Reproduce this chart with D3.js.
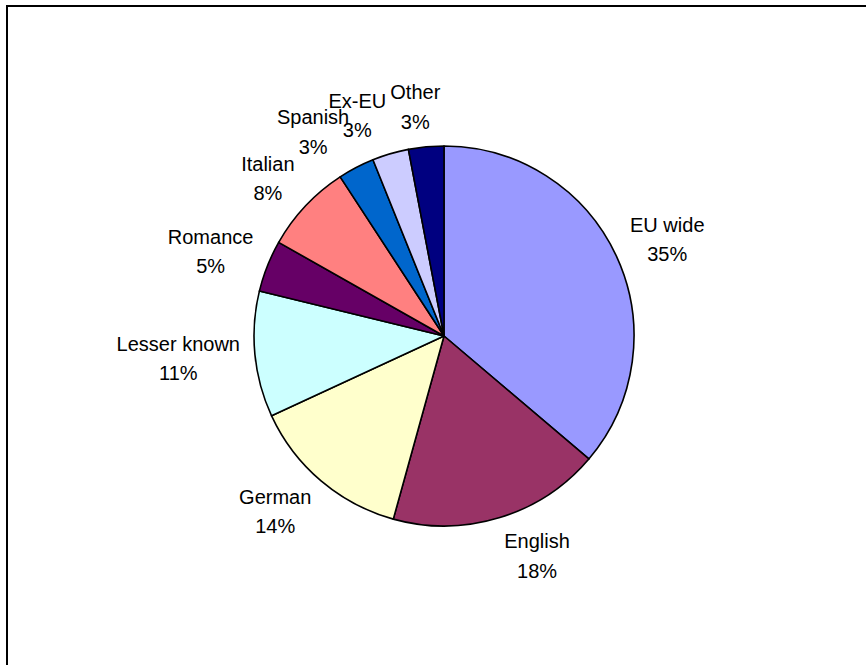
<!DOCTYPE html>
<html>
<head>
<meta charset="utf-8">
<script src="https://cdn.jsdelivr.net/npm/d3@7"></script>
<style>
  html, body { margin: 0; padding: 0; background: #fff; }
  svg { display: block; }
  text { font-family: "Liberation Sans", Arial, sans-serif; font-size: 20px; fill: #000; }
</style>
</head>
<body>
<svg id="chart" width="866" height="665"></svg>
<script>
// Data (clockwise from 12 o'clock), slice sizes
const categories = ["EU wide", "English", "German", "Lesser known", "Romance", "Italian", "Spanish", "Ex-EU", "Other"];
const values = [36.2, 18.1, 13.8, 10.7, 4.4, 7.6, 3.1, 3.1, 3.0];
// percentage labels as printed on the chart
const pctLabels = ["35%", "18%", "14%", "11%", "5%", "8%", "3%", "3%", "3%"];
const colors = ["#9999FF", "#993366", "#FFFFCC", "#CCFFFF", "#660066", "#FF8080", "#0066CC", "#CCCCFF", "#000080"];

const W = 866, H = 665;
const cx = 444, cy = 336, R = 190;
const svg = d3.select("#chart");

// outer chart frame
svg.append("rect")
  .attr("x", 7).attr("y", 6)
  .attr("width", 900).attr("height", 700)
  .attr("fill", "#fff").attr("stroke", "#000").attr("stroke-width", 2);

const pie = d3.pie().sort(null).value(d => d.v);
const arcs = pie(categories.map((c, i) => ({ c, v: values[i], p: pctLabels[i], col: colors[i] })));
const arc = d3.arc().innerRadius(0).outerRadius(R);

const g = svg.append("g").attr("transform", `translate(${cx},${cy})`);
g.selectAll("path").data(arcs).enter().append("path")
  .attr("d", arc)
  .attr("fill", d => d.data.col)
  .attr("stroke", "#000")
  .attr("stroke-width", 1.6)
  .attr("stroke-linejoin", "round");

// labels
const lineGap = 29.5, capH = 14.3;
const lab = g.selectAll("g.lab").data(arcs).enter().append("g").attr("class", "lab");
lab.each(function(d) {
  const sel = d3.select(this);
  const a = (d.startAngle + d.endAngle) / 2;
  const s = Math.sin(a), c = Math.cos(a);
  const t1 = sel.append("text").attr("text-anchor", "middle").text(d.data.c);
  const t2 = sel.append("text").attr("text-anchor", "middle").text(d.data.p);
  const w = Math.max(t1.node().getComputedTextLength(), t2.node().getComputedTextLength());
  const k = Math.max(-1, Math.min(1, s * 4));
  const x = s * (R + 15) + k * w / 2;
  const y = -c * (R + 40);
  const top = y - (capH + lineGap) / 2;
  t1.attr("x", x).attr("y", top + capH);
  t2.attr("x", x).attr("y", top + capH + lineGap);
});
</script>
</body>
</html>
